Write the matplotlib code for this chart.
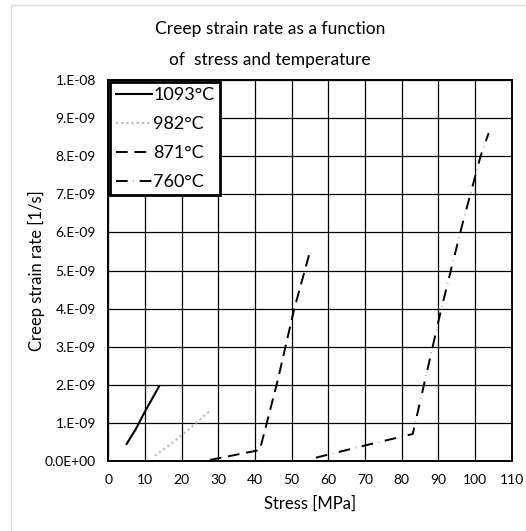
import matplotlib.pyplot as plt
from matplotlib.patches import Rectangle

# data (stress in MPa, creep rate in 1/s)
stress_1093 = [5.0, 7.5, 10.0, 13.8]
rate_1093 = [0.46e-9, 0.85e-9, 1.31e-9, 1.96e-9]

stress_982 = [12.7, 17.0, 22.0, 28.0]
rate_982 = [0.15e-9, 0.45e-9, 0.85e-9, 1.35e-9]

stress_871 = [27.7, 41.3, 46.0, 50.7, 55.2]
rate_871 = [0.04e-9, 0.30e-9, 2.05e-9, 4.0e-9, 5.57e-9]

stress_760 = [56.6, 70.0, 83.0, 90.8, 96.5, 101.5, 103.7]
rate_760 = [0.10e-9, 0.42e-9, 0.72e-9, 4.0e-9, 6.2e-9, 8.0e-9, 8.6e-9]

x_ticks = [0, 10, 20, 30, 40, 50, 60, 70, 80, 90, 100, 110]
y_ticks = [0, 1e-9, 2e-9, 3e-9, 4e-9, 5e-9, 6e-9, 7e-9, 8e-9, 9e-9, 1e-8]
y_tick_labels = ['0.0E+00', '1.E-09', '2.E-09', '3.E-09', '4.E-09', '5.E-09',
                 '6.E-09', '7.E-09', '8.E-09', '9.E-09', '1.E-08']

plt.rcParams['font.family'] = ['Lato', 'DejaVu Sans']

fig = plt.figure(figsize=(5.26, 5.31), dpi=100)
# light grey chart-area border
fig.patches.append(Rectangle((11 / 526, -0.05), 1.1, 1 - 5 / 531 + 0.05,
                             transform=fig.transFigure, fill=False,
                             edgecolor='#d9d9d9', linewidth=1))

ax = fig.add_axes([0.2059, 0.1309, 0.767, 0.719])

ax.plot(stress_1093, rate_1093, color='black', linewidth=1.5, label='1093°C')
ax.plot(stress_982, rate_982, color='#b8b8b8', linewidth=1.5,
        linestyle=(0, (1, 1.5)), label='982°C')
ax.plot(stress_871, rate_871, color='black', linewidth=1.4,
        linestyle=(0, (6, 3.5)), label='871°C')
ax.plot(stress_760, rate_760, color='black', linewidth=1.4,
        linestyle=(0, (6, 3, 0.15, 3)), label='760°C')

ax.set_xlim(0, 110)
ax.set_ylim(0, 1e-8)
ax.set_xticks(x_ticks)
ax.set_yticks(y_ticks)
ax.set_yticklabels(y_tick_labels)
ax.tick_params(length=0, labelsize=10, pad=9)
ax.grid(True, color='black', linewidth=0.9)
ax.set_axisbelow(True)
for s in ax.spines.values():
    s.set_linewidth(1.4)
    s.set_color('black')

ax.set_xlabel('Stress [MPa]', fontsize=12, labelpad=7)
ax.set_ylabel('Creep strain rate [1/s]', fontsize=12, labelpad=0)

fig.text(270 / 526, 1 - 29 / 531, 'Creep strain rate as a function',
         ha='center', va='center', fontsize=12.5)
fig.text(270 / 526, 1 - 60 / 531, 'of  stress and temperature',
         ha='center', va='center', fontsize=12.5)

leg = ax.legend(loc='upper left', bbox_to_anchor=(0, 1), borderaxespad=0.1,
                fancybox=False, framealpha=1, edgecolor='black', fontsize=13,
                handlelength=2.0, handletextpad=0.1, borderpad=0.3,
                labelspacing=0.72)
leg.get_frame().set_linewidth(2)

fig.savefig('out.png', dpi=100)
